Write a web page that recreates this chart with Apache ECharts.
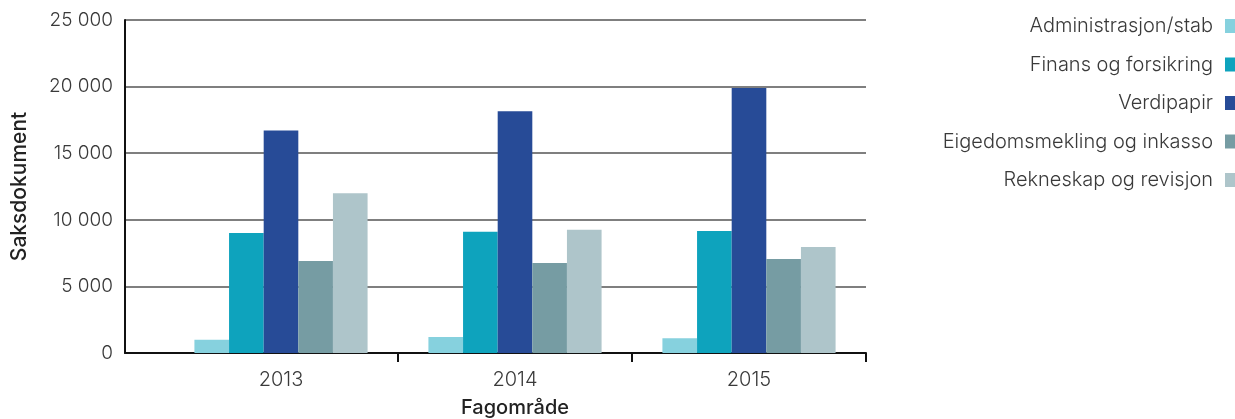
<!DOCTYPE html>
<html>
<head>
<meta charset="utf-8">
<script src="https://cdn.jsdelivr.net/npm/echarts@6/dist/echarts.min.js"></script>
<style>
html,body{margin:0;padding:0;background:#fff;}
#chart{width:1235px;height:419px;}
</style>
</head>
<body>
<div id="chart"></div>
<script>
const categories = ['2013', '2014', '2015'];
const seriesNames = ['Administrasjon/stab', 'Finans og forsikring', 'Verdipapir', 'Eigedomsmekling og inkasso', 'Rekneskap og revisjon'];
const admin = [1000, 1200, 1100];
const finans = [9000, 9100, 9150];
const verdipapir = [16700, 18150, 19900];
const eigedom = [6900, 6750, 7050];
const rekneskap = [12000, 9250, 7950];
const yTicks = [0, 5000, 10000, 15000, 20000, 25000];
const colors = ['#86d1de', '#0ea3bd', '#274b97', '#769ca3', '#aec5ca'];

const values = [admin, finans, verdipapir, eigedom, rekneskap];
const FONT = 'Inter';
const fmt = v => {
  const s = String(v);
  return s.length > 3 ? s.slice(0, s.length - 3) + ' ' + s.slice(-3) : s;
};

const chart = echarts.init(document.getElementById('chart'), null, {renderer: 'canvas'});
chart.setOption({
  animation: false,
  textStyle: {fontFamily: FONT},
  legend: {
    orient: 'vertical',
    right: -5,
    top: 11,
    align: 'right',
    itemWidth: 10,
    itemHeight: 14,
    itemGap: 18.5,
    icon: 'rect',
    textStyle: {fontFamily: FONT, fontSize: 20, color: '#3a3a3a', fontWeight: 300, padding: [0, 7, 0, 0]},
    data: seriesNames
  },
  grid: [
    {left: 125, right: 369, top: 20, bottom: 66, containLabel: false, outerBoundsMode: 'none'},
    {left: 164, right: 369, top: 20, bottom: 66, containLabel: false, outerBoundsMode: 'none'}
  ],
  xAxis: [
    {
      gridIndex: 0, type: 'value', min: 0, max: 1,
      axisLine: {show: true, lineStyle: {color: '#111', width: 2}},
      axisTick: {show: false}, axisLabel: {show: false}, splitLine: {show: false}
    },
    {
      gridIndex: 1, type: 'category', data: categories,
      boundaryGap: true,
      name: 'Fagområde', nameLocation: 'middle', nameGap: 45,
      nameTextStyle: {fontFamily: FONT, fontSize: 20, fontWeight: 500, color: '#222'},
      axisLine: {show: false},
      axisTick: {show: true, length: 9, lineStyle: {color: '#111', width: 2},
        interval: function (i) { return i > 0; }},
      axisLabel: {fontFamily: FONT, fontSize: 20, color: '#3a3a3a', fontWeight: 300, margin: 17}
    }
  ],
  yAxis: [
    {
      gridIndex: 0, type: 'value', min: 0, max: 25000, interval: 5000,
      name: 'Saksdokument', nameLocation: 'middle', nameGap: 95, nameRotate: 90,
      nameTextStyle: {fontFamily: FONT, fontSize: 21, fontWeight: 500, color: '#222'},
      axisLine: {show: true, lineStyle: {color: '#111', width: 2}},
      axisTick: {show: false},
      axisLabel: {fontFamily: FONT, fontSize: 19, color: '#3a3a3a', fontWeight: 300, margin: 12,
        formatter: v => fmt(v)},
      splitLine: {show: true, lineStyle: {color: '#555', width: 1.5}}
    },
    {
      gridIndex: 1, type: 'value', min: 0, max: 25000, interval: 5000,
      axisLine: {show: false}, axisTick: {show: false}, axisLabel: {show: false}, splitLine: {show: false}
    }
  ],
  series: seriesNames.map((name, i) => ({
    name: name,
    type: 'bar',
    xAxisIndex: 1,
    yAxisIndex: 1,
    data: values[i],
    barGap: '0%',
    barCategoryGap: '26%',
    itemStyle: {color: colors[i]}
  }))
});
</script>
</body>
</html>
